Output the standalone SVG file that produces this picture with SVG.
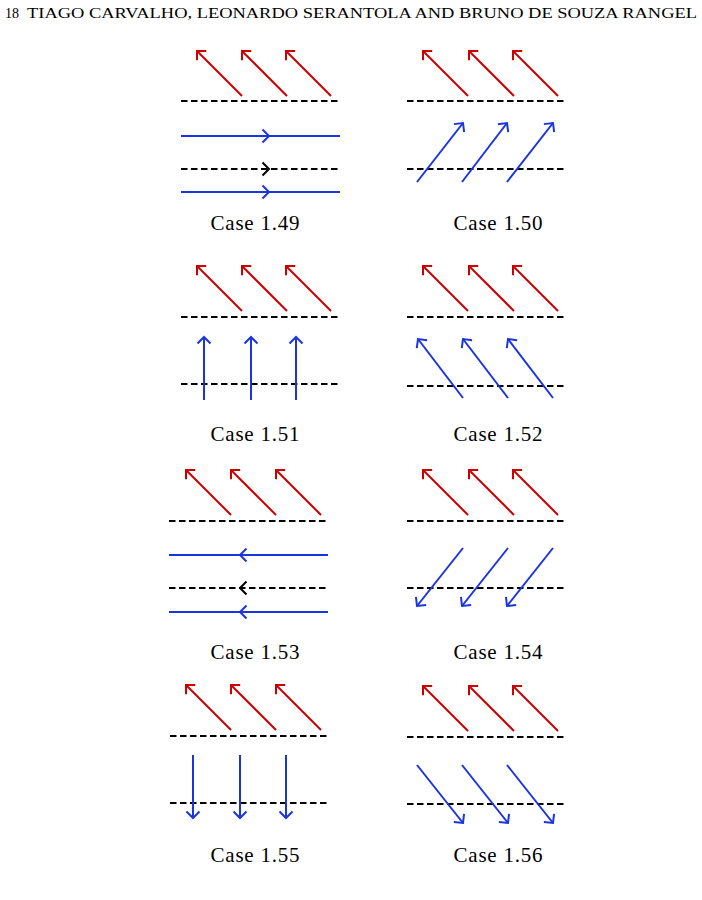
<svg xmlns="http://www.w3.org/2000/svg" width="702" height="900" viewBox="0 0 702 900">
<style>
.red{stroke:#cc0000;stroke-width:2;fill:none;marker-end:url(#hr)}
.blue{stroke:#1a35e0;stroke-width:2;fill:none}
.ba{marker-end:url(#hb)}
.dash{stroke:#000;stroke-width:2;stroke-dasharray:6.5 3.5;fill:none}
.chb{stroke:#1a35e0;stroke-width:2;fill:none}
.chk{stroke:#000;stroke-width:2;fill:none}
.lbl{font-family:"Liberation Serif","Times New Roman",serif;font-size:21px;fill:#000;text-anchor:middle}
.hdr{font-family:"Liberation Serif","Times New Roman",serif;font-size:14px;fill:#000}
</style>
<defs>
<marker id="hr" markerUnits="userSpaceOnUse" viewBox="-10 -10 20 20" markerWidth="20" markerHeight="20" refX="0" refY="0" orient="auto">
<path d="M-6.5,-6.5 L0,0 L-6.5,6.5" stroke="#cc0000" stroke-width="2" fill="none"/>
</marker>
<marker id="hb" markerUnits="userSpaceOnUse" viewBox="-10 -10 20 20" markerWidth="20" markerHeight="20" refX="0" refY="0" orient="auto">
<path d="M-6.5,-6.5 L0,0 L-6.5,6.5" stroke="#1a35e0" stroke-width="2" fill="none"/>
</marker>
</defs>
<rect width="702" height="900" fill="#fff"/>
<text class="hdr" x="5" y="18">18</text>
<text class="hdr" x="27" y="18" textLength="670" lengthAdjust="spacingAndGlyphs">TIAGO CARVALHO, LEONARDO SERANTOLA AND BRUNO DE SOUZA RANGEL</text>

<g id="case149">
<line class="red" x1="242" y1="96" x2="197" y2="51"/>
<line class="red" x1="287" y1="96" x2="242" y2="51"/>
<line class="red" x1="331" y1="96" x2="286" y2="51"/>
<line class="dash" x1="181" y1="101" x2="340" y2="101"/>
<line class="blue" x1="181" y1="136" x2="340" y2="136"/>
<path class="chb" d="M262.5,129.5 L269,136 L262.5,142.5"/>
<line class="dash" x1="181" y1="169" x2="340" y2="169"/>
<path class="chk" d="M262.5,162.5 L269,169 L262.5,175.5"/>
<line class="blue" x1="181" y1="192" x2="340" y2="192"/>
<path class="chb" d="M262.5,185.5 L269,192 L262.5,198.5"/>
<text class="lbl" x="255" y="230" textLength="89">Case 1.49</text>
</g>

<g id="case150">
<line class="red" x1="468" y1="96" x2="423" y2="51"/>
<line class="red" x1="514" y1="96" x2="469" y2="51"/>
<line class="red" x1="558" y1="96" x2="513" y2="51"/>
<line class="dash" x1="407" y1="101" x2="566" y2="101"/>
<line class="dash" x1="407" y1="169" x2="566" y2="169"/>
<line class="blue ba" x1="417" y1="182" x2="463" y2="123"/>
<line class="blue ba" x1="462" y1="182" x2="507" y2="123"/>
<line class="blue ba" x1="507" y1="182" x2="553" y2="123"/>
<text class="lbl" x="498" y="230" textLength="89">Case 1.50</text>
</g>

<g id="case151">
<line class="red" x1="242" y1="311" x2="197" y2="266"/>
<line class="red" x1="287" y1="311" x2="242" y2="266"/>
<line class="red" x1="331" y1="311" x2="286" y2="266"/>
<line class="dash" x1="181" y1="317" x2="340" y2="317"/>
<line class="dash" x1="181" y1="384" x2="340" y2="384"/>
<line class="blue ba" x1="204" y1="400" x2="204" y2="337"/>
<line class="blue ba" x1="251" y1="400" x2="251" y2="337"/>
<line class="blue ba" x1="296" y1="400" x2="296" y2="337"/>
<text class="lbl" x="255" y="441" textLength="89">Case 1.51</text>
</g>

<g id="case152">
<line class="red" x1="468" y1="311" x2="423" y2="266"/>
<line class="red" x1="514" y1="311" x2="469" y2="266"/>
<line class="red" x1="558" y1="311" x2="513" y2="266"/>
<line class="dash" x1="407" y1="317" x2="566" y2="317"/>
<line class="dash" x1="407" y1="386" x2="566" y2="386"/>
<line class="blue ba" x1="463" y1="398" x2="418" y2="339"/>
<line class="blue ba" x1="508" y1="398" x2="463" y2="339"/>
<line class="blue ba" x1="553" y1="398" x2="508" y2="339"/>
<text class="lbl" x="498" y="441" textLength="89">Case 1.52</text>
</g>

<g id="case153">
<line class="red" x1="231" y1="515" x2="186" y2="470"/>
<line class="red" x1="276" y1="515" x2="231" y2="470"/>
<line class="red" x1="321" y1="515" x2="276" y2="470"/>
<line class="dash" x1="169" y1="521" x2="328" y2="521"/>
<line class="blue" x1="169" y1="555" x2="328" y2="555"/>
<path class="chb" d="M246.5,548.5 L240,555 L246.5,561.5"/>
<line class="dash" x1="169" y1="588" x2="328" y2="588"/>
<path class="chk" d="M246.5,581.5 L240,588 L246.5,594.5"/>
<line class="blue" x1="169" y1="612" x2="328" y2="612"/>
<path class="chb" d="M246.5,605.5 L240,612 L246.5,618.5"/>
<text class="lbl" x="255" y="659" textLength="89">Case 1.53</text>
</g>

<g id="case154">
<line class="red" x1="468" y1="515" x2="423" y2="470"/>
<line class="red" x1="514" y1="515" x2="469" y2="470"/>
<line class="red" x1="558" y1="515" x2="513" y2="470"/>
<line class="dash" x1="407" y1="521" x2="566" y2="521"/>
<line class="dash" x1="407" y1="588" x2="566" y2="588"/>
<line class="blue ba" x1="463" y1="548" x2="417" y2="606"/>
<line class="blue ba" x1="508" y1="548" x2="462" y2="606"/>
<line class="blue ba" x1="553" y1="548" x2="507" y2="606"/>
<text class="lbl" x="498" y="659" textLength="89">Case 1.54</text>
</g>

<g id="case155">
<line class="red" x1="231" y1="730" x2="186" y2="685"/>
<line class="red" x1="276" y1="730" x2="231" y2="685"/>
<line class="red" x1="321" y1="730" x2="276" y2="685"/>
<line class="dash" x1="170" y1="736" x2="329" y2="736"/>
<line class="dash" x1="170" y1="803" x2="329" y2="803"/>
<line class="blue ba" x1="193" y1="755" x2="193" y2="818"/>
<line class="blue ba" x1="240" y1="755" x2="240" y2="818"/>
<line class="blue ba" x1="286" y1="755" x2="286" y2="818"/>
<text class="lbl" x="255" y="862" textLength="89">Case 1.55</text>
</g>

<g id="case156">
<line class="red" x1="468" y1="731" x2="423" y2="686"/>
<line class="red" x1="514" y1="731" x2="469" y2="686"/>
<line class="red" x1="558" y1="731" x2="513" y2="686"/>
<line class="dash" x1="407" y1="737" x2="566" y2="737"/>
<line class="dash" x1="407" y1="804" x2="566" y2="804"/>
<line class="blue ba" x1="417" y1="765" x2="463" y2="823"/>
<line class="blue ba" x1="462" y1="765" x2="508" y2="823"/>
<line class="blue ba" x1="507" y1="765" x2="553" y2="823"/>
<text class="lbl" x="498" y="862" textLength="89">Case 1.56</text>
</g>
</svg>
